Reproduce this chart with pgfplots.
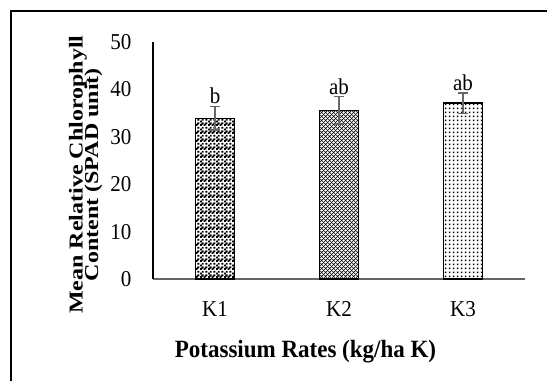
\documentclass[border=0pt]{standalone}
\usepackage{fontspec}
\setmainfont{Liberation Serif}
\usepackage{pgfplots}
\pgfplotsset{compat=1.18}
\usetikzlibrary{patterns}
\pgfdeclarepatternformonly{ktwo}{\pgfqpoint{0pt}{0pt}}{\pgfqpoint{4pt}{4pt}}{\pgfqpoint{4pt}{4pt}}{%
  \pgfsetlinewidth{0.8pt}%
  \pgfpathmoveto{\pgfqpoint{-1pt}{-1pt}}\pgfpathlineto{\pgfqpoint{5pt}{5pt}}%
  \pgfpathmoveto{\pgfqpoint{-1pt}{5pt}}\pgfpathlineto{\pgfqpoint{5pt}{-1pt}}%
  \pgfusepath{stroke}}
\pgfdeclarepatternformonly{kthree}{\pgfqpoint{0pt}{0pt}}{\pgfqpoint{4pt}{4pt}}{\pgfqpoint{4pt}{4pt}}{%
  \pgfpathrectangle{\pgfqpoint{1pt}{1pt}}{\pgfqpoint{1.8pt}{1.8pt}}%
  \pgfusepath{fill}}
\pgfdeclarepatternformonly{kone}{\pgfqpoint{0pt}{0pt}}{\pgfqpoint{8pt}{8pt}}{\pgfqpoint{8pt}{8pt}}{%
  \pgfpathrectangle{\pgfqpoint{0pt}{0pt}}{\pgfqpoint{2pt}{2pt}}%
  \pgfpathrectangle{\pgfqpoint{4pt}{0pt}}{\pgfqpoint{2pt}{2pt}}%
  \pgfpathrectangle{\pgfqpoint{2pt}{2pt}}{\pgfqpoint{2pt}{2pt}}%
  \pgfpathrectangle{\pgfqpoint{6pt}{2pt}}{\pgfqpoint{2pt}{2pt}}%
  \pgfpathrectangle{\pgfqpoint{0pt}{4pt}}{\pgfqpoint{2pt}{2pt}}%
  \pgfpathrectangle{\pgfqpoint{2pt}{6pt}}{\pgfqpoint{2pt}{2pt}}%
  \pgfpathrectangle{\pgfqpoint{6pt}{6pt}}{\pgfqpoint{2pt}{2pt}}%
  \pgfpathrectangle{\pgfqpoint{1pt}{1pt}}{\pgfqpoint{2pt}{2pt}}%
  \pgfpathrectangle{\pgfqpoint{5pt}{1pt}}{\pgfqpoint{2pt}{2pt}}%
  \pgfpathrectangle{\pgfqpoint{1pt}{5pt}}{\pgfqpoint{1pt}{1pt}}%
  \pgfusepath{fill}}
\begin{document}
\begin{tikzpicture}[x=1pt,y=1pt]
\useasboundingbox (0,0) rectangle (547,381);
\draw[line width=1.6pt] (11,0) -- (11,370) -- (547,370);
\begin{axis}[
  at={(153pt,102pt)}, anchor=south west,
  scale only axis, width=372pt, height=237pt,
  xmin=-0.5, xmax=2.5, ymin=0, ymax=50,
  xtick={0,1,2}, xticklabels={K1,K2,K3},
  ytick={0,10,20,30,40,50},
  axis x line*=bottom, axis y line*=left,
  x axis line style={-, line width=1.6pt, black!60},
  y axis line style={-, line width=1.3pt, black},
  major tick length=0pt,
  tick label style={font=\fontsize{21}{24}\selectfont, yscale=1.08},
  /pgf/number format/assume math mode=true,
  yticklabel style={xshift=-18pt},
  xticklabel style={yshift=-17pt},
  xlabel={\textbf{Potassium Rates (kg/ha K)}},
  xlabel style={font=\fontsize{23}{26}\selectfont, yscale=1.08, at={(axis description cs:0.41,0)}, yshift=-53pt},
  ylabel={\textbf{Mean Relative Chlorophyll}\\[-3pt]\textbf{Content (SPAD unit)}},
  ylabel style={font=\fontsize{24}{22}\selectfont, align=center, at={(axis description cs:-0.181,0.44)}, anchor=center, yscale=0.82},
  ybar, bar width=39pt, bar shift=0pt,
  error bars/y dir=both, error bars/y explicit,
  error bars/error bar style={line width=1.6pt, black!60},
  error bars/error mark options={rotate=90, mark size=5pt, line width=1.6pt, black!60},
]
\addplot[draw=black, line width=1.4pt, pattern=kone] coordinates {(0,33.9) +- (0,2.5)};
\addplot[draw=black, line width=1.4pt, pattern=ktwo] coordinates {(1,35.6) +- (0,2.9)};
\addplot[draw=black, line width=1.4pt, pattern=kthree] coordinates {(2,37.1) +- (0,2.2)};
\node[anchor=south, font=\fontsize{21}{24}\selectfont, yscale=1.08, inner sep=1pt] at (axis cs:0,36.6) {b};
\node[anchor=south, font=\fontsize{21}{24}\selectfont, yscale=1.08, inner sep=1pt] at (axis cs:1,38.7) {ab};
\node[anchor=south, font=\fontsize{21}{24}\selectfont, yscale=1.08, inner sep=1pt] at (axis cs:2,39.5) {ab};
\end{axis}
\end{tikzpicture}
\end{document}
